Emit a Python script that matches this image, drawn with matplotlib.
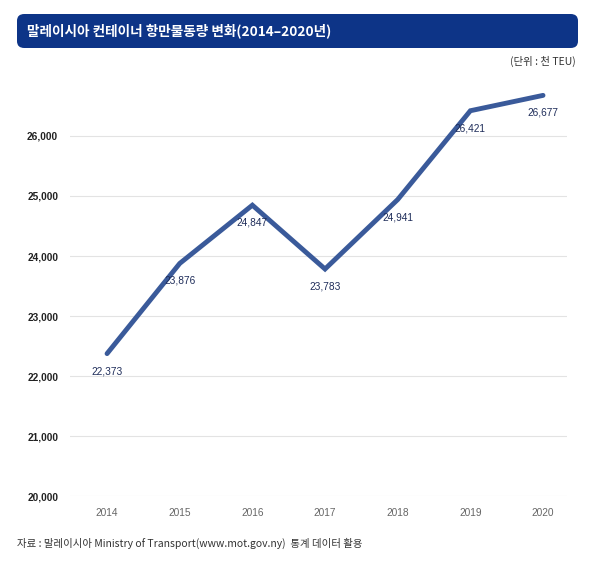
import matplotlib.pyplot as plt
from matplotlib.patches import FancyBboxPatch

plt.rcParams['font.family'] = ['Noto Sans CJK KR', 'DejaVu Sans']
num_font = ['Liberation Sans', 'DejaVu Sans']

years = [2014, 2015, 2016, 2017, 2018, 2019, 2020]
teu = [22373, 23876, 24847, 23783, 24941, 26421, 26677]
yticks = [20000, 21000, 22000, 23000, 24000, 25000, 26000]

W, H = 607, 567
fig = plt.figure(figsize=(W / 100, H / 100), dpi=100)

# title bar
bar = FancyBboxPatch((17 / W, 1 - 48 / H), (578 - 17) / W, 34 / H,
                     boxstyle="round,pad=0,rounding_size=0.012",
                     transform=fig.transFigure, facecolor='#0d3487',
                     edgecolor='none')
fig.patches.append(bar)
fig.text(27 / W, 1 - 31 / H, '말레이시아 컨테이너 항만물동량 변화(2014–2020년)',
         color='white', fontsize=9.8, fontweight='bold', va='center', ha='left')
fig.text(576 / W, 1 - 61 / H, '(단위 : 천 TEU)', fontsize=7.5, color='#333333',
         va='center', ha='right')

ax = fig.add_axes([70 / W, 1 - 496 / H, (567 - 70) / W, 420 / H])
ax.plot(years, teu, color='#3a5a9a', linewidth=3.5, solid_joinstyle='miter',
        solid_capstyle='round', zorder=3)
for x, v in zip(years, teu):
    ax.annotate(f'{v:,}', (x, v), xytext=(0, -9), textcoords='offset points',
                ha='center', va='top', fontsize=7.3, color='#1f2d5a', zorder=4,
                family=num_font)

ax.set_xlim(2013.49, 2020.33)
ax.set_ylim(20000, 27000)
ax.set_yticks(yticks)
ax.set_yticklabels([f'{t:,}' for t in yticks], fontsize=7.3, fontweight='bold',
                   color='#222222', family=num_font)
ax.set_xticks(years)
ax.set_xticklabels([str(y) for y in years], fontsize=7.3, color='#666666',
                   family=num_font)
ax.tick_params(length=0)
ax.tick_params(axis='y', pad=8.5)
ax.tick_params(axis='x', pad=9)
ax.grid(axis='y', color='#e3e3e3', linewidth=0.8)
ax.set_axisbelow(True)
for s in ax.spines.values():
    s.set_visible(False)

fig.text(17 / W, 1 - 543 / H,
         '자료 : 말레이시아 Ministry of Transport(www.mot.gov.ny)  통계 데이터 활용',
         fontsize=7.5, color='#333333', va='center', ha='left')

fig.savefig('out.png', dpi=100)
